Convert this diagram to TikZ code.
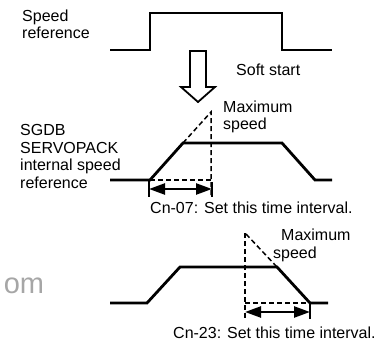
\documentclass[tikz,border=0pt]{standalone}
\usepackage{fontspec}
\setmainfont{Liberation Sans}
\usetikzlibrary{arrows.meta}
\begin{document}
\begin{tikzpicture}[x=1pt,y=-1pt,
  trace/.style={line width=2.8pt,line join=miter},
  dsh/.style={line width=1.5pt,dash pattern=on 5pt off 3pt},
  tickline/.style={line width=1.5pt},
  dim/.style={line width=2.4pt,{Triangle[length=16pt,width=11pt]}-{Triangle[length=16pt,width=11pt]}},
  lbl/.style={font=\fontsize{16}{17.5}\selectfont,align=left,inner sep=0pt},
  captext/.style={font=\fontsize{16}{17.5}\selectfont,inner sep=0pt}]
\useasboundingbox (0,0) rectangle (388,342);
% top step
\draw[trace] (110,50) -- (150,50) -- (150,13) -- (282,13) -- (282,50) -- (332,50);
% hollow arrow
\draw[line width=1.8pt,line join=miter] (190,51) -- (206,51) -- (206,87) -- (215,87) -- (198,102) -- (181,87) -- (190,87) -- cycle;
% middle
\coordinate (m0) at (150,180);
\coordinate (m1) at (183,143);
\coordinate (mpk) at (211,112);
\coordinate (mb) at (211,180);
\draw[trace] (110,180) -- (m0) -- (m1) -- (282,143) -- (315,180) -- (332,180);
\draw[dsh] (m1) -- (mpk) -- (211,197);
\draw[dsh] (m0) -- (mb);
\draw[tickline] (149,180) -- (149,197);
\draw[tickline] (212,182) -- (212,197);
\draw[dim] (149,189) -- (212,189);
% bottom
\coordinate (b0) at (147,303);
\coordinate (b1) at (180,267);
\coordinate (b2) at (277,267);
\coordinate (b3) at (310,303);
\draw[trace] (110,303) -- (b0) -- (b1) -- (b2) -- (b3) -- (328,303);
\draw[dsh] (245,233) -- (245,319);
\draw[dsh] (246,234) -- (b2);
\draw[dsh] (245,303) -- (b3);
\draw[tickline] (310,303) -- (310,319);
\draw[dim] (245,312) -- (310,312);
% labels
\node[lbl,anchor=north west] (sr) at (22,9.5) {Speed\\reference};
\node[captext,anchor=west] (ss) at (236,70) {Soft start};
\node[lbl,anchor=north west] (mx1) at (223,100.5) {Maximum\\speed};
\node[lbl,anchor=north west] (sg) at (20,124.5) {SGDB\\SERVOPACK\\internal speed\\reference};
\node[captext,anchor=west] (c07) at (150,208) {Cn-07: Set this time interval.};
\node[lbl,anchor=north west] (mx2) at (281,229) {Maximum};
\node[lbl,anchor=north west] (sp2) at (273,247) {speed};
\node[captext,anchor=west] (c23) at (173,333) {Cn-23: Set this time interval.};
\node[inner sep=0pt,text=black!35,font=\fontsize{29}{30}\selectfont] (wm) at (24,286) {om};
\end{tikzpicture}
\end{document}
